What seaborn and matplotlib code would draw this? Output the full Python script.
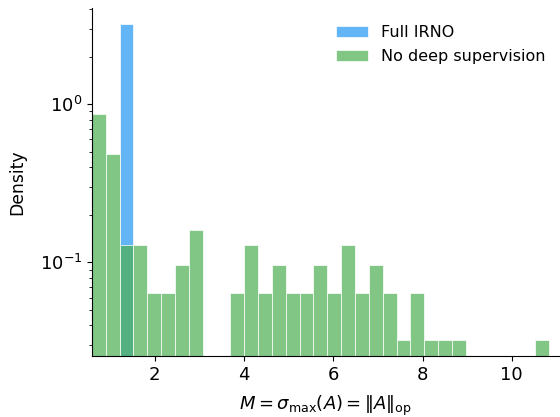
import numpy as np
import pandas as pd
import matplotlib
matplotlib.use("Agg")
import matplotlib.pyplot as plt
import seaborn as sns

# Histogram layout (shared bins)
data_min = 0.588
data_max = 10.83
n_bins = 33

# Counts per bin (100 samples each)
counts_no_deep = [27, 15, 4, 4, 2, 2, 3, 5, 0, 0, 2, 4, 2, 3, 2, 2, 3, 2,
                  4, 2, 3, 2, 1, 2, 1, 1, 1, 0, 0, 0, 0, 0, 1]
counts_full = [0, 0, 100] + [0] * 30

labels = ["Full IRNO", "No deep supervision"]
colors = ["#2196F3", "#4CAF50"]

edges = np.linspace(data_min, data_max, n_bins + 1)
centers = (edges[:-1] + edges[1:]) / 2

plt.rcParams["font.size"] = 12

fig = plt.figure(figsize=(5.6, 4.17), dpi=100)
ax = fig.add_axes([0.164, 0.146, 0.836, 0.835])

for lab, col, cnt in zip(labels, colors, [counts_full, counts_no_deep]):
    df = pd.DataFrame({"M": centers, "w": np.asarray(cnt, dtype=float)})
    sns.histplot(data=df, x="M", weights="w", bins=n_bins,
                 binrange=(data_min, data_max), stat="density",
                 color=col, alpha=0.7, edgecolor="white", linewidth=0.5,
                 label=lab, ax=ax)

ax.set_yscale("log")
ax.set_xlim(data_min, 11.08)
ax.tick_params(axis="both", which="major", labelsize=13)
ax.set_xlabel(r"$M = \sigma_{\max}(A) = \|A\|_{\mathrm{op}}$", fontsize=13,
              labelpad=7)
ax.set_ylabel("Density", fontsize=12.4, labelpad=9.5)
sns.despine(ax=ax)
ax.legend(frameon=False, loc="upper right", fontsize=11.5, labelspacing=0.55,
          bbox_to_anchor=(1.0, 0.991))

fig.savefig("out.png", dpi=100)
